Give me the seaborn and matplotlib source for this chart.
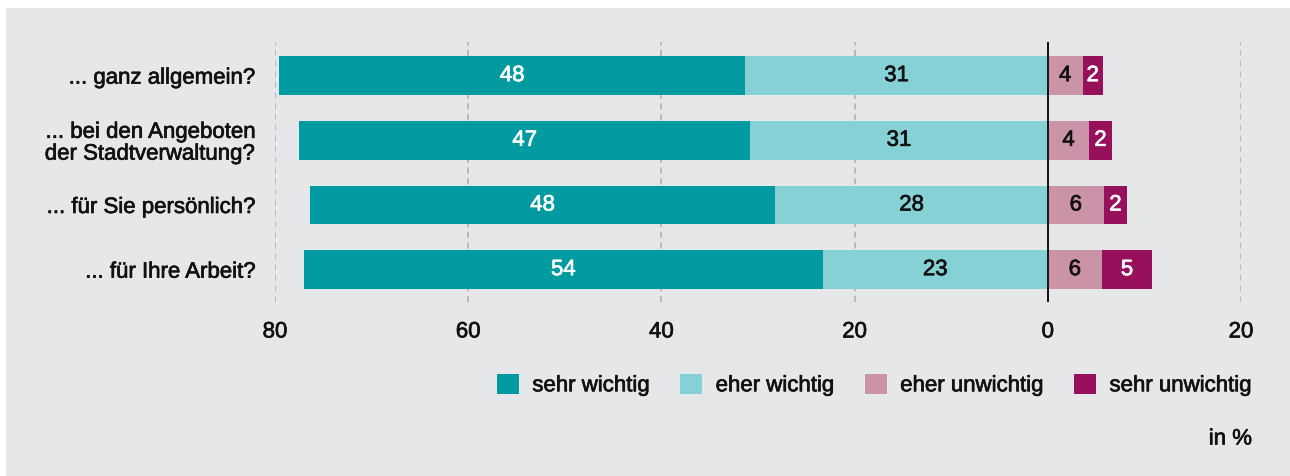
import numpy as np
import pandas as pd
import matplotlib
matplotlib.use("Agg")
import matplotlib.pyplot as plt
import matplotlib.patheffects as pe
from matplotlib.patches import Patch, Rectangle
import seaborn as sns

# ---------------- Daten ----------------
fragen = ["... ganz allgemein?",
          "... bei den Angeboten\nder Stadtverwaltung?",
          "... für Sie persönlich?",
          "... für Ihre Arbeit?"]
sehr_wichtig = [48.3, 46.7, 48.2, 53.7]
eher_wichtig = [31.3, 30.8, 28.2, 23.3]
eher_unwichtig = [3.6, 4.3, 5.8, 5.6]
sehr_unwichtig = [2.1, 2.3, 2.4, 5.2]
kategorien = ["sehr wichtig", "eher wichtig", "eher unwichtig", "sehr unwichtig"]
farben = ["#009aa0", "#86d1d6", "#cb93a7", "#96105b"]
text_farben = ["white", "#111111", "#111111", "white"]
x_ticks = [-80, -60, -40, -20, 0, 20]

df = pd.DataFrame({
    "frage": fragen,
    "sw": sehr_wichtig,
    "ew": eher_wichtig,
    "eu": eher_unwichtig,
    "su": sehr_unwichtig,
})
df["links_gesamt"] = -(df["sw"] + df["ew"])
df["links_innen"] = -df["ew"]
df["rechts_gesamt"] = df["eu"] + df["su"]
df["rechts_innen"] = df["eu"]

plt.rcParams["font.family"] = ["Liberation Sans", "DejaVu Sans"]
grau = "#e6e7e9"
dunkel = "#111111"


def fett(farbe):
    # etwas kräftigere Schrift (Medium-Schnitt nachahmen)
    return [pe.withStroke(linewidth=0.5, foreground=farbe)]


fig = plt.figure(figsize=(12.9, 4.77), dpi=100, facecolor="white")
fig.patches.append(Rectangle((6 / 1290, 0), 1 - 6 / 1290, 1 - 9 / 477,
                             transform=fig.transFigure, facecolor=grau,
                             edgecolor="none", zorder=-10))
ax = fig.add_axes([275 / 1290, 1 - 303 / 477, (1241 - 275) / 1290, (303 - 43) / 477])
ax.set_facecolor(grau)
ax.patch.set_alpha(0)

# ---------------- Balken ----------------
bar_h = 0.6
sns.barplot(data=df, x="links_gesamt", y="frage", orient="h", color=farben[0],
            width=bar_h, saturation=1, ax=ax, zorder=3)
sns.barplot(data=df, x="links_innen", y="frage", orient="h", color=farben[1],
            width=bar_h, saturation=1, ax=ax, zorder=3)
sns.barplot(data=df, x="rechts_gesamt", y="frage", orient="h", color=farben[3],
            width=bar_h, saturation=1, ax=ax, zorder=3)
sns.barplot(data=df, x="rechts_innen", y="frage", orient="h", color=farben[2],
            width=bar_h, saturation=1, ax=ax, zorder=3)

# Werte beschriften
fs = 16
for i, row in df.iterrows():
    mitten = [(row["links_gesamt"] + row["links_innen"]) / 2,
              row["links_innen"] / 2,
              row["rechts_innen"] / 2,
              (row["rechts_innen"] + row["rechts_gesamt"]) / 2]
    werte = [row["sw"], row["ew"], row["eu"], row["su"]]
    for k in range(4):
        ax.text(mitten[k], i, f"{round(werte[k]):d}", ha="center", va="center",
                color=text_farben[k], fontsize=fs, zorder=5,
                path_effects=fett(text_farben[k]))

# ---------------- Achsen ----------------
ax.set_xlim(-80, 20)
ax.set_ylim(3.5, -0.52)
ax.set_xticks(x_ticks)
ax.set_xticklabels([str(abs(t)) for t in x_ticks])
for t in x_ticks:
    if t == 0:
        ax.axvline(0, color=dunkel, lw=1.4, zorder=4)
    else:
        ax.axvline(t, color="#adadad", lw=1.1, ls=(0, (4, 3)), zorder=1)
ax.tick_params(axis="x", length=0, pad=14, labelsize=fs, labelcolor=dunkel)
ax.tick_params(axis="y", length=0, pad=14, labelsize=fs, labelcolor=dunkel)
for lbl in ax.get_yticklabels() + ax.get_xticklabels():
    lbl.set_linespacing(1.05)
    lbl.set_path_effects(fett(dunkel))
ax.set_xlabel("")
ax.set_ylabel("")
for s in ax.spines.values():
    s.set_visible(False)

# Legende
handles = [Patch(facecolor=c, edgecolor="none") for c in farben]
leg = fig.legend(handles, kategorien, loc="center right",
                 bbox_to_anchor=(1272 / 1290, 1 - 386 / 477), ncol=4, frameon=False,
                 fontsize=fs, handlelength=1.0, handleheight=1.0, handletextpad=0.6,
                 columnspacing=1.35, labelcolor=dunkel)
for t in leg.get_texts():
    t.set_path_effects(fett(dunkel))

fig.text(1252 / 1290, 1 - 440 / 477, "in %", ha="right", va="center",
         fontsize=fs, color=dunkel, path_effects=fett(dunkel))

fig.savefig("out.png", dpi=100, facecolor="white")
